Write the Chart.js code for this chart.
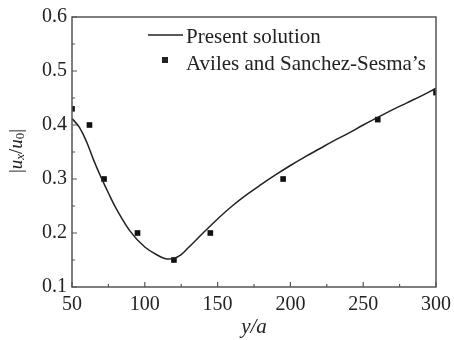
<!DOCTYPE html>
<html>
<head>
<meta charset="utf-8">
<script src="https://cdn.jsdelivr.net/npm/chart.js@4.4.1/dist/chart.umd.min.js"></script>
<style>
  html, body { margin: 0; padding: 0; background: #fff; }
  #wrap { width: 454px; height: 340px; }
</style>
</head>
<body>
<div id="wrap"><canvas id="chart" width="454" height="340"></canvas></div>
<script>
// Present solution (curve)
const curveX = [50, 55, 60, 65, 70, 75, 80, 90, 100, 110, 115, 120, 125, 130, 140, 150, 160, 170, 180, 190, 200, 210, 220, 230, 240, 250, 260, 270, 280, 290, 300];
const curveY = [0.412, 0.396, 0.369, 0.334, 0.303, 0.274, 0.247, 0.203, 0.174, 0.157, 0.152, 0.153, 0.160, 0.173, 0.200, 0.226, 0.250, 0.271, 0.290, 0.308, 0.325, 0.341, 0.356, 0.371, 0.385, 0.400, 0.414, 0.428, 0.441, 0.454, 0.468];

// Aviles and Sanchez-Sesma's points
const refX = [50, 62, 72, 95, 120, 145, 195, 260, 300];
const refY = [0.43, 0.40, 0.30, 0.20, 0.15, 0.20, 0.30, 0.41, 0.46];

const seriesNames = ["Present solution", "Aviles and Sanchez-Sesma\u2019s"];
const xTicks = [50, 100, 150, 200, 250, 300];
const yTicks = [0.1, 0.2, 0.3, 0.4, 0.5, 0.6];

const serif = "'Liberation Serif', 'Times New Roman', serif";
const axisColor = "#555";
const textColor = "#222";

// inward ticks, frame, legend and y title
const decor = {
  id: "decor",
  afterDraw(chart) {
    const ctx = chart.ctx;
    const a = chart.chartArea;
    const xs = chart.scales.x, ys = chart.scales.y;
    ctx.save();
    ctx.strokeStyle = axisColor;
    ctx.lineWidth = 1.5;
    ctx.strokeRect(a.left, a.top, a.right - a.left, a.bottom - a.top);

    ctx.lineWidth = 1.2;
    ctx.beginPath();
    for (let i = 0; i < xTicks.length; i++) {
      const px = xs.getPixelForValue(xTicks[i]);
      ctx.moveTo(px, a.bottom); ctx.lineTo(px, a.bottom - 5);
      if (i < xTicks.length - 1) {
        const pm = xs.getPixelForValue((xTicks[i] + xTicks[i + 1]) / 2);
        ctx.moveTo(pm, a.bottom); ctx.lineTo(pm, a.bottom - 3);
      }
    }
    for (let i = 0; i < yTicks.length; i++) {
      const py = ys.getPixelForValue(yTicks[i]);
      ctx.moveTo(a.left, py); ctx.lineTo(a.left + 5, py);
      if (i < yTicks.length - 1) {
        const pm = ys.getPixelForValue((yTicks[i] + yTicks[i + 1]) / 2);
        ctx.moveTo(a.left, pm); ctx.lineTo(a.left + 3, pm);
      }
    }
    ctx.stroke();

    // legend
    ctx.fillStyle = textColor;
    ctx.font = "21px " + serif;
    ctx.textBaseline = "alphabetic";
    ctx.strokeStyle = "#222";
    ctx.lineWidth = 1.5;
    ctx.beginPath();
    ctx.moveTo(148, 35); ctx.lineTo(183, 35);
    ctx.stroke();
    ctx.fillText(seriesNames[0], 186, 43);
    ctx.fillRect(162, 57, 6, 6);
    ctx.fillText(seriesNames[1], 186, 70);

    // y axis title |u_x/u_0|
    ctx.translate(17, 151);
    ctx.rotate(-Math.PI / 2);
    ctx.textBaseline = "middle";
    const parts = [
      ["|", "19px " + serif, 0],
      ["u", "italic 19px " + serif, 0],
      ["x", "italic 13px " + serif, 4],
      ["/", "19px " + serif, 0],
      ["u", "italic 19px " + serif, 0],
      ["0", "13px " + serif, 4],
      ["|", "19px " + serif, 0]
    ];
    let total = 0;
    for (const p of parts) { ctx.font = p[1]; total += ctx.measureText(p[0]).width; }
    let cx = -total / 2;
    ctx.textAlign = "left";
    for (const p of parts) {
      ctx.font = p[1];
      ctx.fillText(p[0], cx, p[2]);
      cx += ctx.measureText(p[0]).width;
    }
    ctx.restore();
  }
};

new Chart(document.getElementById("chart"), {
  type: "scatter",
  data: {
    datasets: [
      {
        label: seriesNames[0],
        data: curveX.map((x, i) => ({ x: x, y: curveY[i] })),
        showLine: true,
        borderColor: "#222",
        borderWidth: 1.5,
        pointRadius: 0,
        tension: 0.4,
        fill: false,
      },
      {
        label: seriesNames[1],
        data: refX.map((x, i) => ({ x: x, y: refY[i] })),
        showLine: false,
        pointStyle: "rect",
        pointRadius: 4,
        borderWidth: 0,
        backgroundColor: "#111",
        borderColor: "#111",
      },
    ],
  },
  options: {
    responsive: false,
    animation: false,
    devicePixelRatio: 1,
    layout: { padding: { left: 0, right: 18, top: 15, bottom: 0 } },
    plugins: {
      legend: { display: false },
      tooltip: { enabled: false },
    },
    scales: {
      x: {
        type: "linear",
        min: 50,
        max: 300,
        afterFit: (s) => {
          s.height = 53;
          s.paddingLeft = 0;
          s.paddingRight = 0;
        },
        afterBuildTicks: (s) => { s.ticks = xTicks.map((v) => ({ value: v })); },
        grid: { display: false, drawTicks: false },
        border: { display: false },
        ticks: {
          color: textColor,
          font: { family: serif, size: 20 },
          padding: 6,
          maxRotation: 0,
        },
        title: {
          display: true,
          text: "y/a",
          color: textColor,
          font: { family: serif, size: 21, style: "italic" },
          padding: { top: 0, bottom: 0 },
        },
      },
      y: {
        type: "linear",
        min: 0.1,
        max: 0.6,
        afterFit: (s) => { s.width = 72; },
        afterBuildTicks: (s) => { s.ticks = yTicks.map((v) => ({ value: v })); },
        grid: { display: false, drawTicks: false },
        border: { display: false },
        ticks: {
          color: textColor,
          font: { family: serif, size: 20 },
          padding: 5,
          callback: (v) => v.toFixed(1),
        },
      },
    },
  },
  plugins: [decor],
});
</script>
</body>
</html>
